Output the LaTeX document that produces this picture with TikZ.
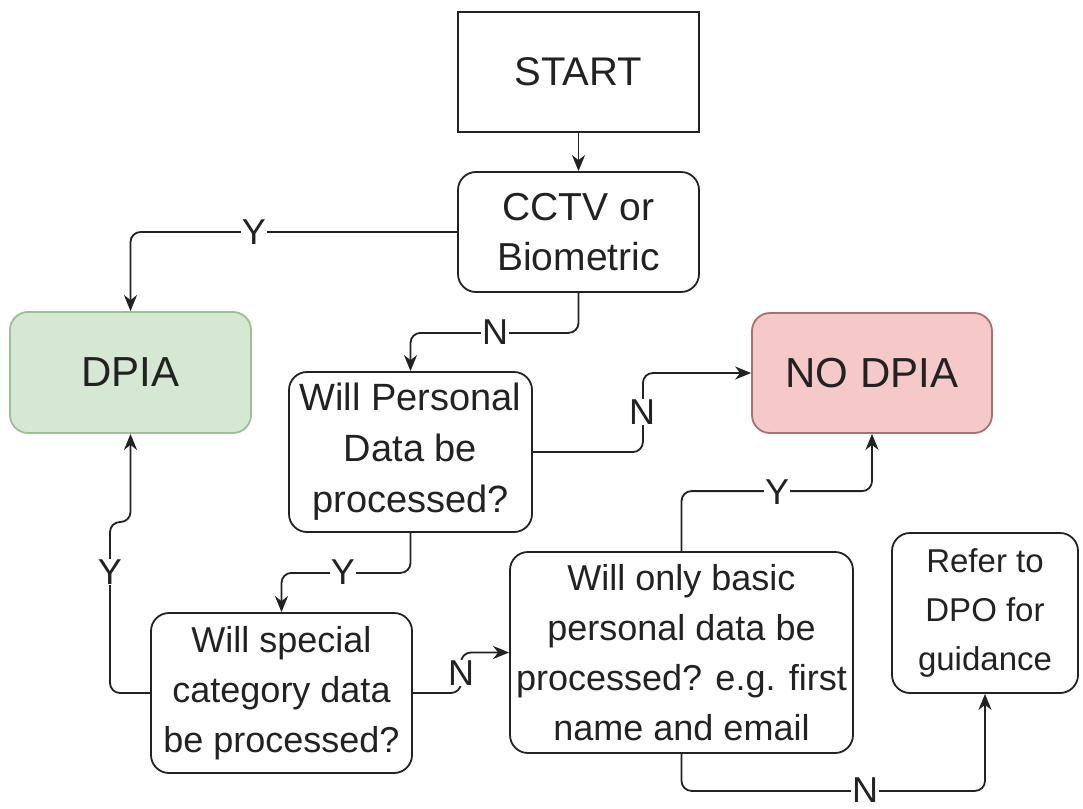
\documentclass[tikz,border=0pt]{standalone}
\usepackage{fontspec}
\setmainfont{Liberation Sans}
\usetikzlibrary{arrows.meta}
\definecolor{dpiafill}{HTML}{D5E8D4}
\definecolor{dpiaedge}{HTML}{9CBF93}
\definecolor{nodpiafill}{HTML}{F4C9C8}
\definecolor{nodpiaedge}{HTML}{A8706E}
\definecolor{ink}{HTML}{222222}

\begin{document}
\begin{tikzpicture}[x=1pt, y=-1pt,
    box/.style={draw=ink, line width=1.8pt, rounded corners=18pt, align=center,
        inner sep=0pt, text=ink, font=\fontsize{36}{50}\selectfont},
    conn/.style={draw=ink, line width=1.8pt, rounded corners=10pt,
        -{Stealth[length=16pt, width=13pt, inset=5pt]}},
    lbl/.style={fill=white, inner sep=1pt, text=ink, font=\fontsize{36}{40}\selectfont}]
    \useasboundingbox (0,0) rectangle (1083,808);

    \node[box, rounded corners=0pt, minimum width=241, minimum height=120,
        font=\fontsize{40}{50}\selectfont] (start) at (578.5,72) {START};
    \node[box, minimum width=241, minimum height=120,
        font=\fontsize{39}{50}\selectfont] (cctv) at (578.5,232) {CCTV or\\Biometric};
    \node[box, fill=dpiafill, draw=dpiaedge, minimum width=241, minimum height=121,
        font=\fontsize{42}{50}\selectfont] (dpia) at (130.5,372.5) {DPIA};
    \node[box, fill=nodpiafill, draw=nodpiaedge, minimum width=240, minimum height=120,
        font=\fontsize{42}{50}\selectfont] (nodpia) at (872,373) {NO DPIA};
    \node[box, minimum width=243, minimum height=160,
        font=\fontsize{38}{51}\selectfont] (personal) at (410.5,452)
        {Will Personal\\Data be\\processed?};
    \node[box, minimum width=261, minimum height=160] (special) at (281.5,693)
        {Will special\\category data\\be processed?};
    \node[box, minimum width=343, minimum height=201] (basic) at (681.5,652.5)
        {Will only basic\\personal data be\\processed? e.g. first\\name and email};
    \node[box, minimum width=186, minimum height=160,
        font=\fontsize{33}{49}\selectfont] (refer) at (985,613) {Refer to\\DPO for\\guidance};

    \draw[conn] (start) -- (cctv);
    \draw[conn] (cctv.west) -| (dpia.north);
    \draw[conn] (cctv.south) -- ++(0,40) -| (personal.north);
    \draw[conn] (personal.east) -- ++(110,0) |- (nodpia.west);
    \draw[conn] (personal.south) -- ++(0,40) -| (special.north);
    \draw[conn] (special.west) -- (110,693) -- (110,522) -| (dpia.south);
    \draw[conn] (special.east) -- (461,693) |- (basic.west);
    \draw[conn] (basic.north) -- ++(0,-60) -| (nodpia.south);
    \draw[conn] (basic.south) -- ++(0,37) -| (refer.south);

    \node[lbl] (ycctv) at (254,232) {Y};
    \node[lbl] (ncctv) at (495,332) {N};
    \node[lbl] (npersonal) at (642,412) {N};
    \node[lbl] (ypersonal) at (343,572) {Y};
    \node[lbl] (yspecial) at (110,572) {Y};
    \node[lbl] (nspecial) at (461,673) {N};
    \node[lbl] (ybasic) at (777,492) {Y};
    \node[lbl] (nbasic) at (865,790) {N};
\end{tikzpicture}
\end{document}
